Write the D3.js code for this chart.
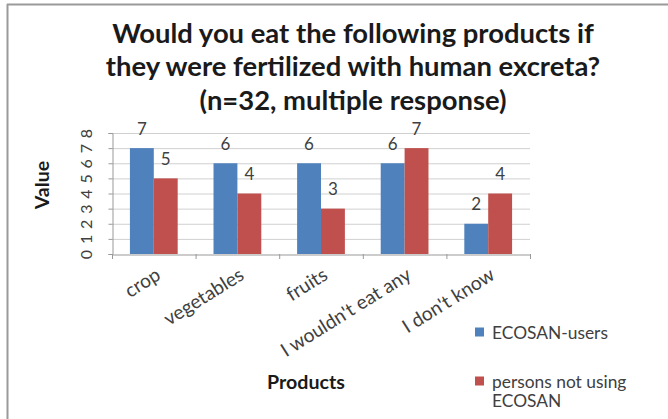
<!DOCTYPE html>
<html><head><meta charset="utf-8">
<script src="https://cdn.jsdelivr.net/npm/d3@7"></script>
<style>body{margin:0;background:#fff;} svg{display:block;}</style>
</head><body>
<script>
const categories = ["crop","vegetables","fruits","I wouldn't eat any","I don't know"];
const seriesNames = ["ECOSAN-users","persons not using ECOSAN"];
const ecosanUsers = [7,6,6,6,2];
const nonUsers = [5,4,3,7,4];
const yTicks = [0,1,2,3,4,5,6,7,8];
const titleLines = ["Would you eat the following products if","they were fertilized with human excreta?","(n=32, multiple response)"];
const colors = ["#4F81BD","#C0504D"];
const font = "Lato, 'Open Sans', sans-serif";

const W=668,H=419;
const svg=d3.select("body").append("svg").attr("width",W).attr("height",H);
svg.append("rect").attr("width",W).attr("height",H).attr("fill","#fff");
// border
svg.append("line").attr("x1",7).attr("x2",W).attr("y1",4.5).attr("y2",4.5).attr("stroke","#9a9a9a").attr("stroke-width",2);
svg.append("line").attr("x1",7.5).attr("x2",7.5).attr("y1",4).attr("y2",H).attr("stroke","#9a9a9a").attr("stroke-width",2);

// fit helper: font-size that makes the selected text reach the target width
function fitSize(sel, target){
  const n=sel.node(); const base=20; sel.attr("font-size",base);
  const w=n.getComputedTextLength(); return base*target/w;
}

// title
const tt=svg.append("g").selectAll("text").data(titleLines).join("text")
  .attr("x",353).attr("y",(d,i)=>32+i*33.5).attr("text-anchor","middle").attr("dominant-baseline","central")
  .attr("font-family",font).attr("font-weight","bold").attr("fill","#1a1a1a")
  .text(d=>d);
const tSize=fitSize(d3.select(tt.nodes()[0]),482);
tt.attr("font-size",tSize);

const x0=d3.scaleBand().domain(categories).range([112,530]).paddingInner(0).paddingOuter(0);
const x1=d3.scaleBand().domain(seriesNames).range([0,x0.bandwidth()]).paddingInner(0).paddingOuter(0.75);
const y=d3.scaleLinear().domain([0,8]).range([254,133]);

// gridlines
svg.append("g").selectAll("line").data(yTicks.slice(1)).join("line")
  .attr("x1",112).attr("x2",530).attr("y1",d=>y(d)+0.5).attr("y2",d=>y(d)+0.5)
  .attr("stroke","#d0d0d0").attr("stroke-width",1);

// y axis
const yAxis=svg.append("g").attr("transform","translate(112.5,0)")
  .call(d3.axisLeft(y).tickValues(yTicks).tickSize(4).tickFormat(d3.format("d")));
yAxis.select(".domain").attr("stroke","#999");
yAxis.selectAll(".tick line").attr("stroke","#999");
yAxis.selectAll(".tick text").attr("font-family",font).attr("font-size",16).attr("fill","#404040")
  .attr("x",0).attr("dy",0).attr("text-anchor","middle").attr("dominant-baseline","central")
  .attr("transform","translate(-27,0) rotate(-90)");

// x axis
const xAxis=svg.append("g").attr("transform","translate(0,254.5)")
  .call(d3.axisBottom(x0).tickSize(0).tickFormat(""));
xAxis.select(".domain").attr("stroke","#999");
svg.append("g").selectAll("line").data(d3.range(categories.length+1)).join("line")
  .attr("x1",i=>112.5+i*x0.step()).attr("x2",i=>112.5+i*x0.step())
  .attr("y1",254).attr("y2",259).attr("stroke","#999");

// bars
const data=categories.map((c,i)=>({c,vals:[ecosanUsers[i],nonUsers[i]]}));
const g=svg.append("g").selectAll("g").data(data).join("g").attr("transform",d=>`translate(${x0(d.c)},0)`);
g.selectAll("rect").data(d=>d.vals.map((v,j)=>({v,s:seriesNames[j],j}))).join("rect")
  .attr("x",d=>x1(d.s)).attr("width",x1.bandwidth()).attr("y",d=>y(d.v)).attr("height",d=>y(0)-y(d.v))
  .attr("fill",d=>colors[d.j]);
g.selectAll("text").data(d=>d.vals.map((v,j)=>({v,s:seriesNames[j],j}))).join("text")
  .attr("x",d=>x1(d.s)+x1.bandwidth()/2).attr("y",d=>y(d.v)-20)
  .attr("text-anchor","middle").attr("dominant-baseline","central").attr("font-family",font).attr("font-size",17).attr("fill","#404040")
  .text(d=>d.v);

// x labels
const xl=svg.append("g").selectAll("text").data(categories).join("text")
  .attr("transform",d=>`translate(${x0(d)+x0.bandwidth()/2+4},${272}) rotate(-32)`)
  .attr("text-anchor","end").attr("dominant-baseline","central")
  .attr("font-family",font).attr("fill","#404040").text(d=>d);
const xlSize=fitSize(d3.select(xl.nodes()[1]),90);
xl.attr("font-size",xlSize);

// axis titles
const vt=svg.append("text").attr("transform","translate(41,185) rotate(-90)").attr("text-anchor","middle")
  .attr("dominant-baseline","central").attr("font-family",font).attr("font-weight","bold").attr("fill","#1a1a1a").text("Value");
const pt=svg.append("text").attr("x",306).attr("y",381).attr("text-anchor","middle").attr("dominant-baseline","central")
  .attr("font-family",font).attr("font-weight","bold").attr("fill","#1a1a1a").text("Products");
const atSize=fitSize(pt,78);
pt.attr("font-size",atSize); vt.attr("font-size",atSize);

// legend
const leg=[{lines:["ECOSAN-users"],y:332},{lines:["persons not using","ECOSAN"],y:381}];
const lg=svg.append("g").selectAll("g").data(leg).join("g");
lg.append("rect").attr("x",475).attr("y",d=>d.y-4.5).attr("width",9).attr("height",9).attr("fill",(d,i)=>colors[i]);
const lt=lg.append("text").attr("font-family",font).attr("fill","#404040");
lt.selectAll("tspan").data(d=>d.lines.map((l,k)=>({l,k,y:d.y}))).join("tspan")
  .attr("x",492).attr("y",d=>d.y+d.k*19).attr("dominant-baseline","central").text(d=>d.l);
const lSize=fitSize(d3.select(lt.nodes()[0]),116);
lt.attr("font-size",lSize);
</script>
</body></html>
